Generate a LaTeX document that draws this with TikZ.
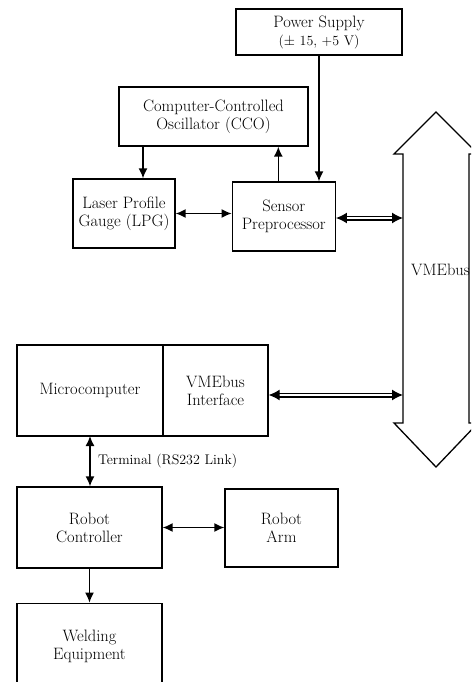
\documentclass[tikz,border=0pt]{standalone}
\usepackage{tikz}
\usetikzlibrary{arrows.meta,calc,positioning}

\begin{document}
\begin{tikzpicture}[x=1pt,y=-1pt,>={Latex[length=10pt,width=9pt]},
    font=\fontsize{16.5}{18}\selectfont,
    unit/.style={draw,line width=1.3pt,align=center,inner sep=2pt},
    link/.style={line width=1.5pt},
    buslink/.style={line width=1.3pt,double,double distance=2.4pt,
      >={Latex[length=11pt,width=11pt]}}]
    \useasboundingbox (0,0) rectangle (471,682);
    \clip (0,0) rectangle (471,682);
    \node[unit,minimum width=166pt,minimum height=46pt] (supply) at (319,32)
      {Power Supply\\{\fontsize{14}{15}\selectfont($\pm$ 15, +5 V)}};
    \node[unit,minimum width=189pt,minimum height=59pt] (cco) at (213.5,116.5)
      {Computer-Controlled\\Oscillator (CCO)};
    \node[unit,minimum width=102pt,minimum height=69pt] (lpg) at (124,213.5)
      {Laser Profile\\Gauge (LPG)};
    \node[unit,minimum width=103pt,minimum height=69pt,right=56pt of lpg,yshift=-3pt] (sensor)
      {Sensor\\Preprocessor};
    \node[unit,minimum width=146pt,minimum height=91pt] (micro) at (90,390.5)
      {Microcomputer};
    \node[unit,minimum width=105pt,minimum height=91pt,right=-1.3pt of micro] (iface)
      {VMEbus\\Interface};
    \node[unit,minimum width=145pt,minimum height=81pt] (ctrl) at (89.5,527.5)
      {Robot\\Controller};
    \node[unit,minimum width=113pt,minimum height=78pt] (arm) at (281.5,528)
      {Robot\\Arm};
    \node[unit,minimum width=145pt,minimum height=87pt,below=34pt of ctrl] (weld)
      {Welding\\Equipment};
    % VMEbus
    \draw[line width=1.3pt] (436,112) -- (478,154) -- (469,154) -- (469,423) -- (478,423)
      -- (436,467) -- (394,423) -- (403,423) -- (403,154) -- (394,154) -- cycle;
    \coordinate (busL) at (403,300);
    \node[anchor=east,inner sep=0pt] (bus) at (470,270) {VMEbus};
    \draw[->,link] (supply) -- (supply |- sensor.north);
    \draw[->,link] ([xshift=19pt]lpg.north |- cco.south) -- ([xshift=19pt]lpg.north);
    \draw[->,link] ([xshift=-5.5pt]sensor.north) -- ([xshift=-5.5pt]sensor.north |- cco.south);
    \draw[<->,link] (lpg.east) -- (lpg.east -| sensor.west);
    \draw[<->,buslink] ([yshift=-1.5pt]sensor.east) -- ([yshift=-1.5pt]sensor.east -| busL);
    \draw[<->,buslink] ([yshift=-4.5pt]iface.east) -- ([yshift=-4.5pt]iface.east -| busL);
    \draw[<->,link] (micro) ++(0,45.5) coordinate (term) -- (term |- ctrl.north)
      node[midway,right=4pt,font=\fontsize{14}{15}\selectfont] {Terminal (RS232 Link)};
    \draw[<->,link] (ctrl.east) -- (ctrl.east -| arm.west);
    \draw[->,link] (ctrl) ++(0,40.5) coordinate (weldtop) -- (weld.north);
  \end{tikzpicture}
\end{document}
